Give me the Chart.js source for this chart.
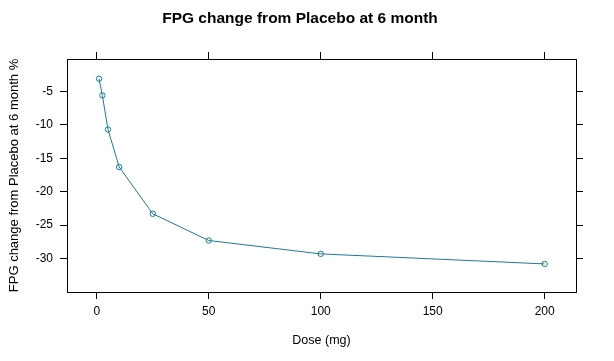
<!DOCTYPE html>
<html>
<head>
<meta charset="utf-8">
<script src="https://cdn.jsdelivr.net/npm/chart.js@4/dist/chart.umd.min.js"></script>
<style>
    body { margin: 0; background: #fff; }
    #wrap { width: 614px; height: 361px; position: relative; }
</style>
</head>
<body>
<div id="wrap"><canvas id="fpgChart"></canvas></div>
<script>
// dose levels (mg) and FPG change vs placebo (%)
const doses = [1, 2.5, 5, 10, 25, 50, 100, 200];
const fpgChange = [-3.1, -5.6, -10.7, -16.3, -23.3, -27.3, -29.3, -30.8];

const xTicks = [0, 50, 100, 150, 200];
const yTicks = [-30, -25, -20, -15, -10, -5];

const lineColor = '#1e7898';
const fontFamily = '"Liberation Sans", Arial, sans-serif';

function fixTicks(values) {
    return function (scale) {
        scale.ticks = values.map(v => ({ value: v }));
    };
}

function boxAxis(extra) {
    return Object.assign({
        type: 'linear',
        grid: {
            drawOnChartArea: false,
            drawTicks: true,
            tickLength: 7,
            tickWidth: 1,
            tickColor: '#000'
        },
        border: { display: true, color: '#000', width: 1 }
    }, extra);
}

let canvas = document.getElementById('fpgChart');
new Chart(canvas, {
    type: 'line',
    data: {
        datasets: [{
            label: 'FPG change',
            data: doses.map((d, i) => ({ x: d, y: fpgChange[i] })),
            borderColor: lineColor,
            borderWidth: 1,
            backgroundColor: 'rgba(255,255,255,0)',
            pointStyle: 'circle',
            pointRadius: 2.7,
            pointBorderWidth: 1,
            pointBorderColor: lineColor,
            pointBackgroundColor: 'rgba(255,255,255,0)',
            tension: 0
        }]
    },
    options: {
        responsive: true,
        maintainAspectRatio: false,
        animation: false,
        // right padding shifts the centred title a bit left, like the original
        layout: { padding: { left: 0, right: 14, top: 0, bottom: 0 } },
        plugins: {
            legend: { display: false },
            tooltip: { enabled: false },
            title: {
                display: true,
                text: 'FPG change from Placebo at 6 month',
                color: '#000',
                font: { family: fontFamily, size: 15.5, weight: 'bold', lineHeight: 1.2 },
                padding: { top: 9, bottom: 11.4 }
            }
        },
        scales: {
            x: boxAxis({
                position: 'bottom',
                min: -13.3,
                max: 214,
                afterBuildTicks: fixTicks(xTicks),
                afterFit: function (scale) { scale.height = 69; },
                ticks: {
                    color: '#000',
                    padding: 5,
                    maxRotation: 0,
                    font: { family: fontFamily, size: 12 }
                },
                title: {
                    display: true,
                    text: 'Dose (mg)',
                    color: '#000',
                    font: { family: fontFamily, size: 12.5 },
                    padding: { top: 0, bottom: 13 }
                }
            }),
            x2: boxAxis({
                position: 'top',
                min: -13.3,
                max: 214,
                afterBuildTicks: fixTicks(xTicks),
                afterFit: function (scale) { scale.height = 20; },
                ticks: { display: false }
            }),
            y: boxAxis({
                position: 'left',
                min: -35,
                max: -0.15,
                afterBuildTicks: fixTicks(yTicks),
                afterFit: function (scale) { scale.width = 67; },
                ticks: {
                    color: '#000',
                    padding: 7,
                    font: { family: fontFamily, size: 12 }
                },
                title: {
                    display: true,
                    text: 'FPG change from Placebo at 6 month %',
                    color: '#000',
                    font: { family: fontFamily, size: 13 },
                    padding: { top: 7, bottom: 0 }
                }
            }),
            y2: boxAxis({
                position: 'right',
                min: -35,
                max: -0.15,
                afterBuildTicks: fixTicks(yTicks),
                afterFit: function (scale) { scale.width = 24; },
                ticks: { display: false }
            })
        }
    }
});
</script>
</body>
</html>
